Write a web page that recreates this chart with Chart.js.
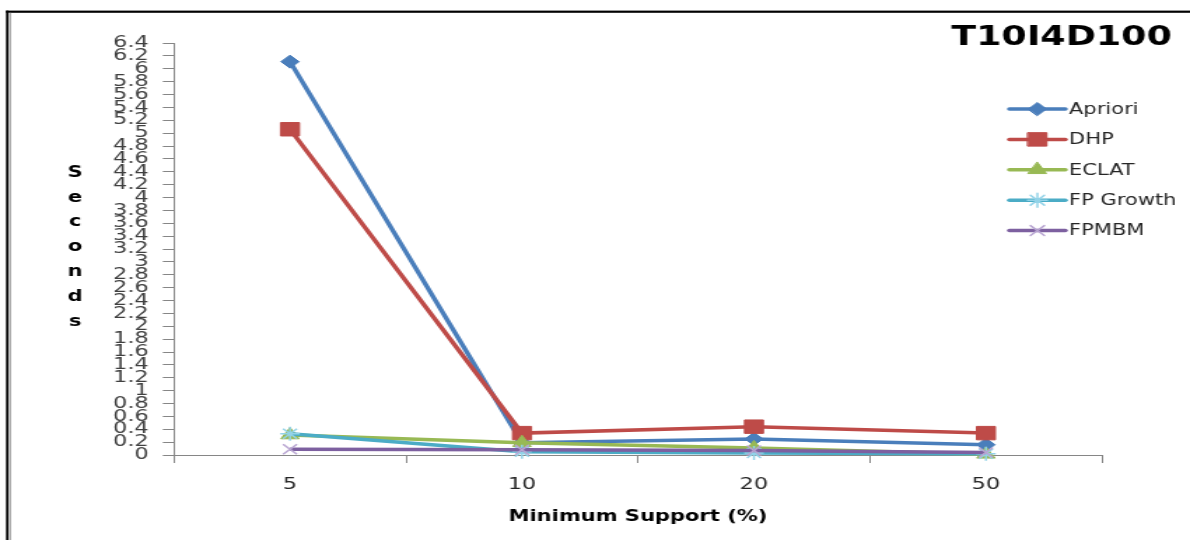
<!DOCTYPE html>
<html>
<head>
<meta charset="utf-8">
<title>T10I4D100</title>
<script src="https://cdn.jsdelivr.net/npm/chart.js@4/dist/chart.umd.min.js"></script>
<style>
html, body { margin: 0; padding: 0; background: #fff; overflow: hidden; }
#wrap { width: 850px; height: 540px; transform: scaleX(1.4); transform-origin: 0 0; }
</style>
</head>
<body>
<div id="wrap"><canvas id="runChart" width="850" height="540"></canvas></div>
<script>
// run time in seconds per minimum support level
var supportLevels = ['5', '10', '20', '50'];
var aprioriTimes = [6.11, 0.19, 0.25, 0.16];
var dhpTimes = [5.06, 0.34, 0.44, 0.34];
var eclatTimes = [0.31, 0.19, 0.11, 0.01];
var fpGrowthTimes = [0.33, 0.05, 0.03, 0.02];
var fpmbmTimes = [0.09, 0.08, 0.07, 0.04];

var seriesNames = ['Apriori', 'DHP', 'ECLAT', 'FP Growth', 'FPMBM'];
var seriesValues = [aprioriTimes, dhpTimes, eclatTimes, fpGrowthTimes, fpmbmTimes];
var lineColors = ['#4A7EBB', '#BE4B48', '#98B954', '#4BACC6', '#7D60A0'];
var markerBorders = ['#4A7EBB', '#BE4B48', '#98B954', '#93D3E8', '#B9A6D2'];
var markerStyles = ['rectRot', 'rect', 'triangle', 'star', 'crossRot'];
var markerSizes = [6.5, 9.5, 7.5, 7, 7];

var chartTitle = 'T10I4D100';
var yTitle = 'Seconds';
var xTitle = 'Minimum Support (%)';
var fontFamily = '"DejaVu Sans", Verdana, sans-serif';

var datasets = seriesNames.map(function (name, i) {
    return {
        label: name,
        data: seriesValues[i],
        borderColor: lineColors[i],
        backgroundColor: lineColors[i],
        borderWidth: 3.5,
        tension: 0,
        fill: false,
        clip: false,
        order: seriesNames.length - i,
        pointStyle: markerStyles[i],
        pointRadius: markerSizes[i],
        pointHoverRadius: markerSizes[i],
        pointBackgroundColor: lineColors[i],
        pointBorderColor: markerBorders[i],
        pointBorderWidth: (i >= 3) ? 1.5 : 1
    };
});

// frame, title, stacked axis letters and the legend
var decorations = {
    id: 'decorations',
    beforeDraw: function (chart) {
        var ctx = chart.ctx;
        ctx.save();
        ctx.fillStyle = '#ffffff';
        ctx.fillRect(0, 0, chart.width, chart.height);
        ctx.fillStyle = '#000000';
        ctx.fillRect(4.3, 10.6, chart.width, 2.2);
        ctx.fillRect(4.3, 10.6, 1.7, chart.height);
        ctx.fillStyle = '#9a9a9a';
        ctx.fillRect(6.5, 12.8, 1.3, chart.height);
        ctx.restore();
    },
    afterDraw: function (chart) {
        var ctx = chart.ctx;
        ctx.save();

        ctx.fillStyle = '#000000';
        ctx.font = 'bold 26px ' + fontFamily;
        ctx.textAlign = 'right';
        ctx.textBaseline = 'middle';
        ctx.fillText(chartTitle, 837, 38);

        ctx.font = 'bold 15px ' + fontFamily;
        ctx.textAlign = 'center';
        yTitle.split('').forEach(function (ch, i) {
            ctx.fillText(ch, 53.6, 173 + i * 24.8);
        });

        ctx.font = '15px ' + fontFamily;
        ctx.textAlign = 'left';
        chart.data.datasets.forEach(function (ds, i) {
            var y = 109 + i * 30.4;
            ctx.strokeStyle = ds.borderColor;
            ctx.lineWidth = 3.5;
            ctx.lineCap = 'round';
            ctx.beginPath();
            ctx.moveTo(721, y);
            ctx.lineTo(761, y);
            ctx.stroke();

            ctx.fillStyle = ds.pointBackgroundColor;
            ctx.strokeStyle = ds.pointBorderColor;
            ctx.lineWidth = ds.pointBorderWidth;
            if (Chart.helpers && Chart.helpers.drawPoint) {
                Chart.helpers.drawPoint(ctx, {
                    pointStyle: ds.pointStyle,
                    radius: ds.pointRadius,
                    borderWidth: ds.pointBorderWidth,
                    rotation: 0
                }, 741, y);
            }

            ctx.fillStyle = '#262626';
            ctx.fillText(ds.label, 763.6, y + 1);
        });

        ctx.restore();
    }
};

var ctx = document.getElementById('runChart').getContext('2d');
var runChart = new Chart(ctx, {
    type: 'line',
    data: {
        labels: supportLevels,
        datasets: datasets
    },
    plugins: [decorations],
    options: {
        responsive: false,
        animation: false,
        layout: {
            padding: { left: 60, right: 62.9, top: 43, bottom: 0 }
        },
        plugins: {
            legend: { display: false },
            title: { display: false },
            tooltip: { enabled: false }
        },
        scales: {
            x: {
                type: 'category',
                offset: true,
                border: { color: '#868686', width: 1 },
                grid: {
                    offset: true,
                    drawOnChartArea: false,
                    drawTicks: true,
                    tickLength: 8,
                    color: '#868686'
                },
                ticks: {
                    color: '#262626',
                    font: { family: fontFamily, size: 16 },
                    padding: 12,
                    maxRotation: 0
                },
                title: {
                    display: true,
                    text: xTitle,
                    color: '#000000',
                    font: { family: fontFamily, size: 15, weight: 'bold' },
                    padding: { top: 0, bottom: 14 }
                },
                afterFit: function (scale) {
                    scale.height = 85;
                }
            },
            y: {
                min: 0,
                max: 6.4,
                border: { color: '#868686', width: 1 },
                grid: {
                    drawOnChartArea: false,
                    drawTicks: true,
                    tickLength: 8,
                    color: '#868686'
                },
                ticks: {
                    stepSize: 0.2,
                    autoSkip: false,
                    color: '#404040',
                    padding: 10,
                    font: { family: fontFamily, size: 16 },
                    callback: function (value) {
                        return String(Math.round(value * 10) / 10);
                    }
                },
                afterFit: function (scale) {
                    scale.width = 64.3;
                }
            }
        }
    }
});
</script>
</body>
</html>
